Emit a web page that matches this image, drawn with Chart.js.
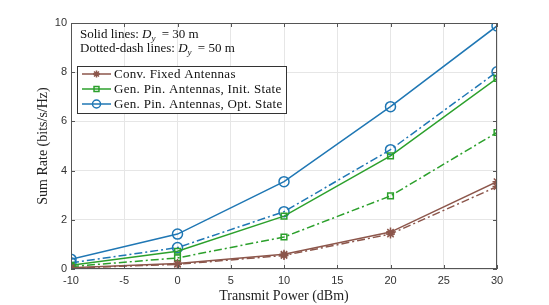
<!DOCTYPE html>
<html>
<head>
<meta charset="utf-8">
<script src="https://cdn.jsdelivr.net/npm/chart.js@4.4.1/dist/chart.umd.min.js"></script>
<style>
  html, body { margin: 0; padding: 0; background: #fff; }
  #wrap { width: 549px; height: 305px; }
</style>
</head>
<body>
<div id="wrap"><canvas id="c" width="549" height="305"></canvas></div>
<script>
// --- Datos ---
const potencias = [-10, 0, 10, 20, 30];
const xTicks = [-10, -5, 0, 5, 10, 15, 20, 25, 30];
const yTicks = [0, 2, 4, 6, 8, 10];

const convSolid = [0.05, 0.22, 0.60, 1.50, 3.55];
const convDash  = [0.04, 0.19, 0.55, 1.42, 3.35];
const initSolid = [0.15, 0.72, 2.15, 4.60, 7.75];
const initDash  = [0.10, 0.45, 1.30, 2.97, 5.55];
const optSolid  = [0.40, 1.42, 3.55, 6.60, 9.88];
const optDash   = [0.25, 0.87, 2.33, 4.85, 8.02];

const leyenda = ['Conv. Fixed Antennas', 'Gen. Pin. Antennas, Init. State', 'Gen. Pin. Antennas, Opt. State'];

const CAFE = '#8c564b', VERDE = '#2ca02c', AZUL = '#1f77b4';
const SERIF = '"Liberation Serif", "DejaVu Serif", serif';
const SANS = '"Liberation Sans", Arial, sans-serif';
const DASHDOT = [8, 3, 2, 3];

const pts = arr => arr.map((y, i) => ({ x: potencias[i], y }));

function serie(data, color, forma, radio, dash) {
  return {
    data: pts(data),
    borderColor: color, backgroundColor: 'rgba(0,0,0,0)',
    pointBorderColor: color, pointBackgroundColor: 'rgba(0,0,0,0)',
    borderWidth: 1.5, pointBorderWidth: 1.5,
    pointStyle: forma, pointRadius: radio,
    borderDash: dash || [], tension: 0
  };
}

// --- Marco, ticks internos, anotación y leyenda ---
const marcoPlugin = {
  id: 'marco',
  afterDraw(chart) {
    const { ctx, chartArea: a, scales: { x, y } } = chart;
    ctx.save();
    ctx.strokeStyle = '#555';
    ctx.lineWidth = 1;
    ctx.strokeRect(a.left + 0.5, a.top + 0.5, a.right - a.left - 1, a.bottom - a.top - 1);
    ctx.beginPath();
    xTicks.forEach(t => {
      const px = Math.round(x.getPixelForValue(t)) + 0.5;
      ctx.moveTo(px, a.bottom); ctx.lineTo(px, a.bottom - 4);
      ctx.moveTo(px, a.top); ctx.lineTo(px, a.top + 4);
    });
    yTicks.forEach(t => {
      const py = Math.round(y.getPixelForValue(t)) + 0.5;
      ctx.moveTo(a.left, py); ctx.lineTo(a.left + 4, py);
      ctx.moveTo(a.right, py); ctx.lineTo(a.right - 4, py);
    });
    ctx.stroke();

    // anotación
    ctx.fillStyle = '#111';
    ctx.textBaseline = 'alphabetic';
    const linea = (x0, y0, pre, post) => {
      ctx.font = '13px ' + SERIF;
      ctx.fillText(pre, x0, y0);
      let cx = x0 + ctx.measureText(pre).width;
      ctx.font = 'italic 13px ' + SERIF;
      ctx.fillText('D', cx, y0);
      cx += ctx.measureText('D').width;
      ctx.font = 'italic 9px ' + SERIF;
      ctx.fillText('y', cx, y0 + 3);
      cx += ctx.measureText('y').width + 3;
      ctx.font = '13px ' + SERIF;
      ctx.fillText(post, cx, y0);
    };
    linea(80, 38, 'Solid lines: ', ' = 30 m');
    linea(80, 52, 'Dotted-dash lines: ', ' = 50 m');

    // leyenda
    const lx = 77, ly = 66, lw = 209, lh = 47;
    ctx.fillStyle = '#fff';
    ctx.fillRect(lx, ly, lw, lh);
    ctx.strokeStyle = '#333';
    ctx.strokeRect(lx + 0.5, ly + 0.5, lw, lh);
    const cols = [CAFE, VERDE, AZUL];
    const formas = ['star', 'rect', 'circle'];
    leyenda.forEach((txt, i) => {
      const yy = ly + 8 + i * 15;
      ctx.strokeStyle = cols[i];
      ctx.lineWidth = 1.5;
      ctx.beginPath(); ctx.moveTo(82, yy); ctx.lineTo(111, yy); ctx.stroke();
      ctx.fillStyle = 'rgba(0,0,0,0)';
      Chart.helpers.drawPoint(ctx, { pointStyle: formas[i], radius: i === 2 ? 4 : 3.5, borderWidth: 1.5 }, 96.5, yy);
      ctx.fillStyle = '#111';
      ctx.font = '13px ' + SERIF;
      ctx.letterSpacing = '0.3px';
      ctx.textBaseline = 'middle';
      ctx.fillText(txt, 114, yy + 0.5);
      ctx.letterSpacing = '0px';
    });
    ctx.restore();
  }
};

new Chart(document.getElementById('c'), {
  type: 'line',
  data: {
    datasets: [
      serie(convSolid, CAFE, 'star', 4.5),
      serie(convDash, CAFE, 'star', 4.5, DASHDOT),
      serie(initSolid, VERDE, 'rect', 4),
      serie(initDash, VERDE, 'rect', 4, DASHDOT),
      serie(optSolid, AZUL, 'circle', 5),
      serie(optDash, AZUL, 'circle', 5, DASHDOT)
    ]
  },
  options: {
    responsive: false,
    animation: false,
    layout: { padding: { left: 35, right: 52, top: 23, bottom: 0 } },
    plugins: { legend: { display: false }, tooltip: { enabled: false } },
    scales: {
      x: {
        type: 'linear', min: -10, max: 30,
        afterBuildTicks: s => { s.ticks = xTicks.map(v => ({ value: v })); },
        afterFit: s => { s.height = 36; },
        grid: { color: '#e6e6e6', drawTicks: false, lineWidth: 1 },
        border: { display: false },
        ticks: { color: '#333', font: { family: SANS, size: 11 }, padding: 5, maxRotation: 0 },
        title: { display: true, text: 'Transmit Power (dBm)', color: '#222', font: { family: SERIF, size: 14 }, padding: { top: 0, bottom: 0 } }
      },
      y: {
        min: 0, max: 10,
        afterBuildTicks: s => { s.ticks = yTicks.map(v => ({ value: v })); },
        afterFit: s => { s.width = 36; },
        grid: { color: '#e6e6e6', drawTicks: false, lineWidth: 1 },
        border: { display: false },
        ticks: { color: '#333', font: { family: SANS, size: 11 }, padding: 4 },
        title: { display: true, text: 'Sum Rate (bits/s/Hz)', color: '#222', font: { family: SERIF, size: 14 }, padding: { top: 0, bottom: 0 } }
      }
    }
  },
  plugins: [marcoPlugin]
});
</script>
</body>
</html>
